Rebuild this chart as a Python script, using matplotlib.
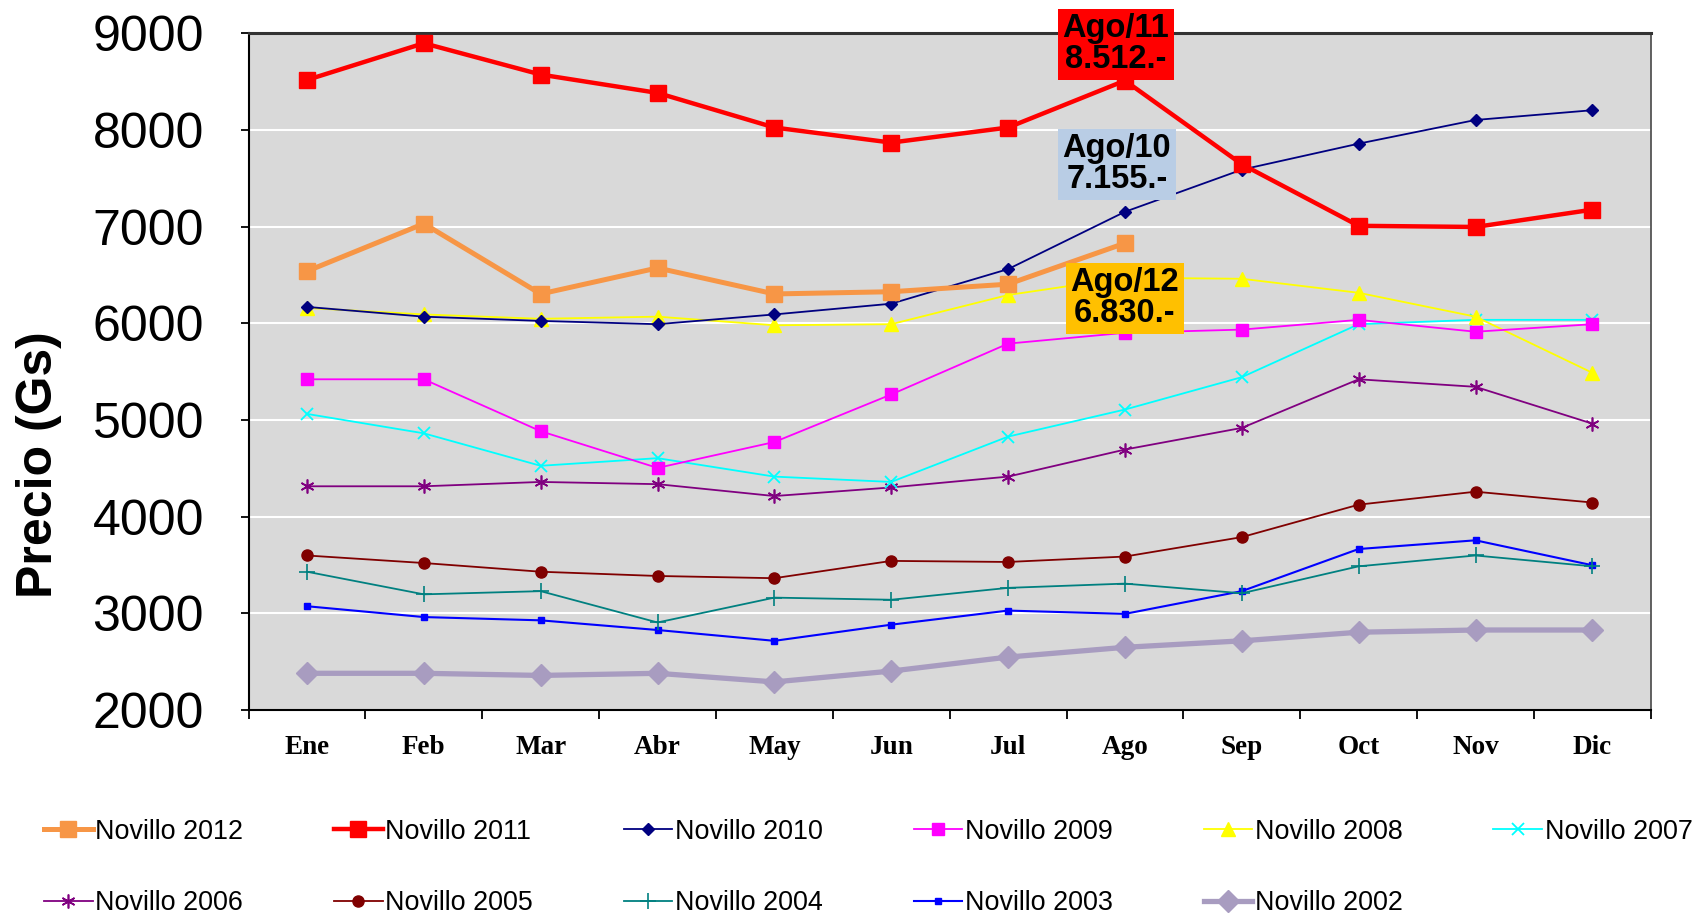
import matplotlib
matplotlib.use("Agg")
import matplotlib.pyplot as plt
from matplotlib.ticker import FixedLocator, NullFormatter, FixedFormatter

plt.rcParams['font.family'] = ['Liberation Sans', 'DejaVu Sans']

months = ["Ene", "Feb", "Mar", "Abr", "May", "Jun", "Jul", "Ago", "Sep", "Oct", "Nov", "Dic"]

novillo_2012 = [6540, 7032, 6305, 6574, 6305, 6328, 6406, 6830]
novillo_2011 = [8519, 8899, 8575, 8385, 8027, 7871, 8027, 8512, 7647, 7010, 6998, 7177]
novillo_2010 = [6171, 6070, 6026, 5992, 6093, 6204, 6562, 7155, 7591, 7860, 8105, 8206]
novillo_2009 = [5422, 5422, 4885, 4505, 4773, 5265, 5791, 5903, 5936, 6037, 5914, 5992]
novillo_2008 = [6160, 6093, 6048, 6070, 5981, 5992, 6294, 6473, 6462, 6317, 6070, 5489]
novillo_2007 = [5064, 4863, 4527, 4606, 4415, 4360, 4829, 5109, 5444, 5992, 6037, 6037]
novillo_2006 = [4315, 4315, 4360, 4337, 4214, 4303, 4415, 4695, 4919, 5422, 5344, 4963]
novillo_2005 = [3599, 3521, 3431, 3387, 3364, 3543, 3532, 3588, 3789, 4125, 4259, 4147]
novillo_2004 = [3431, 3197, 3230, 2906, 3163, 3141, 3264, 3308, 3208, 3487, 3599, 3487]
novillo_2003 = [3074, 2962, 2928, 2828, 2716, 2883, 3029, 2995, 3230, 3666, 3756, 3498]
novillo_2002 = [2380, 2380, 2358, 2380, 2291, 2403, 2548, 2649, 2716, 2805, 2828, 2828]

y_ticks = [2000, 3000, 4000, 5000, 6000, 7000, 8000, 9000]

annotations = [
    ("Ago/11\n8.512.-", "#FF0000"),
    ("Ago/10\n7.155.-", "#B9CDE5"),
    ("Ago/12\n6.830.-", "#FFC000"),
]

series = [
    ("Novillo 2012", novillo_2012, dict(color="#F79646", lw=3.6, marker="s", ms=11)),
    ("Novillo 2011", novillo_2011, dict(color="#FF0000", lw=3.2, marker="s", ms=11)),
    ("Novillo 2010", novillo_2010, dict(color="#000080", lw=1.3, marker="D", ms=6)),
    ("Novillo 2009", novillo_2009, dict(color="#FF00FF", lw=1.3, marker="s", ms=8)),
    ("Novillo 2008", novillo_2008, dict(color="#FFFF00", lw=1.3, marker="^", ms=10)),
    ("Novillo 2007", novillo_2007, dict(color="#00FFFF", lw=1.3, marker="x", ms=9, mew=1.3)),
    ("Novillo 2006", novillo_2006, dict(color="#800080", lw=1.3, marker=(6, 2, 0), ms=10, mew=1.2)),
    ("Novillo 2005", novillo_2005, dict(color="#800000", lw=1.3, marker="o", ms=8)),
    ("Novillo 2004", novillo_2004, dict(color="#008080", lw=1.3, marker="+", ms=12, mew=1.2)),
    ("Novillo 2003", novillo_2003, dict(color="#0000FF", lw=1.5, marker="s", ms=4)),
    ("Novillo 2002", novillo_2002, dict(color="#A89CC0", lw=3.8, marker="D", ms=11)),
]

fig = plt.figure(figsize=(16.94, 9.17), dpi=100)
ax = fig.add_axes([0.1467, 0.2257, 0.8278, 0.7378])
ax.set_facecolor("#D9D9D9")

handles = {}
n = len(series)
for i, (label, vals, style) in enumerate(series):
    x = list(range(len(vals)))
    ln, = ax.plot(x, vals, label=label, zorder=3 + (n - i) * 0.1, clip_on=False, **style)
    handles[label] = ln

ax.set_xlim(-0.5, 11.5)
ax.set_ylim(2000, 9000)

ax.yaxis.set_major_locator(FixedLocator(y_ticks))
ax.grid(axis="y", color="white", lw=1.5, zorder=1)
ax.set_axisbelow(True)

ax.xaxis.set_major_locator(FixedLocator([i - 0.5 for i in range(13)]))
ax.xaxis.set_major_formatter(NullFormatter())
ax.xaxis.set_minor_locator(FixedLocator(list(range(12))))
ax.xaxis.set_minor_formatter(FixedFormatter(months))
ax.tick_params(axis="x", which="major", direction="out", length=6.5, width=1.3, color="black")
ax.tick_params(axis="x", which="minor", length=0, pad=18)
for t in ax.get_xticklabels(minor=True):
    t.set_fontfamily("Liberation Serif")
    t.set_fontweight("bold")
    t.set_fontsize(19.5)

ax.tick_params(axis="y", direction="out", length=6, width=1.3, labelsize=36, pad=26)

for s in ["left", "bottom"]:
    ax.spines[s].set_color("black")
    ax.spines[s].set_linewidth(1.5)
ax.spines["top"].set_color("#333333")
ax.spines["top"].set_linewidth(2.2)
ax.spines["right"].set_color("#555555")
ax.spines["right"].set_linewidth(1.3)

ax.set_ylabel("Precio (Gs)", fontsize=36, fontweight="bold")
ax.yaxis.set_label_coords(-0.133, 0.363)

# annotation boxes
box_pos = [(6.92, 8888), (6.93, 7647), (7.0, 6260)]
for (txt, col), (bx, by) in zip(annotations, box_pos):
    ax.text(bx, by, txt, ha="center", va="center", fontsize=23.5, fontweight="bold",
            linespacing=1.0, color="black", zorder=10, clip_on=False,
            bbox=dict(boxstyle="square,pad=0.14", facecolor=col, edgecolor="none"))

# legend: row1 = 2012..2007, row2 = 2006..2002
labels_all = [s[0] for s in series]
row1 = labels_all[:6]
row2 = labels_all[6:]
order = []
for j in range(6):
    order.append(row1[j])
    if j < len(row2):
        order.append(row2[j])
fig.legend([handles[l] for l in order], order, ncol=6, loc="upper left",
           bbox_to_anchor=(0.026, 0.107), frameon=False, fontsize=19.4,
           handlelength=1.8, handletextpad=0.1, columnspacing=3.37,
           labelspacing=1.68, borderpad=0, borderaxespad=0)

fig.savefig("out.png", dpi=100)
